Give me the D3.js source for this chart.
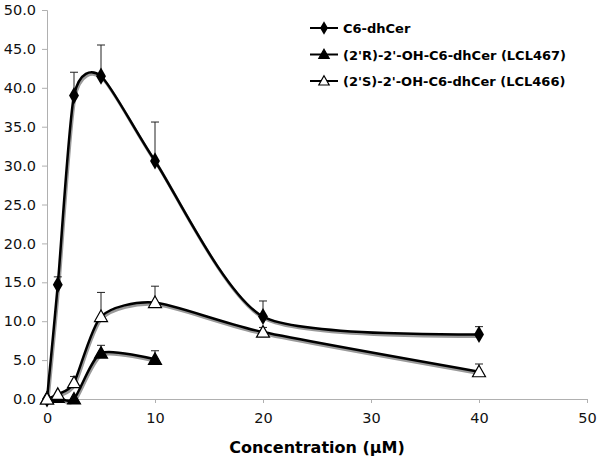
<!DOCTYPE html>
<html lang="en">
<head>
    <meta charset="UTF-8" />
    <title>Concentration chart</title>
    <script src="https://d3js.org/d3.v7.min.js"></script>
    <style>
        body { margin: 0; background: #fff; }
        text { font-family: "DejaVu Sans", Verdana, sans-serif; }
    </style>
</head>
<body>
    <script>
        var w = 600;
        var h = 462;

        // Data
        var concC6 = [0, 1, 2.5, 5, 10, 20, 40];
        var valC6 = [0, 14.7, 39.0, 41.5, 30.6, 10.6, 8.3];
        var errC6 = [0, 1.0, 3.0, 4.0, 5.0, 2.0, 1.0];

        var concR = [0, 1, 2.5, 5, 10];
        var valR = [0, 0.2, 0, 5.9, 5.1];
        var errR = [0, 0, 0, 1.0, 1.1];

        var concS = [0, 1, 2.5, 5, 10, 20, 40];
        var valS = [0, 0.6, 2.1, 10.6, 12.4, 8.6, 3.5];
        var errS = [0, 0, 0.8, 3.1, 2.1, 0.6, 1.0];

        var xTicks = [0, 10, 20, 30, 40, 50];
        var yTicks = [0, 5, 10, 15, 20, 25, 30, 35, 40, 45, 50];
        var seriesNames = ["C6-dhCer", "(2'R)-2'-OH-C6-dhCer (LCL467)", "(2'S)-2'-OH-C6-dhCer (LCL466)"];

        var series = [
            { name: seriesNames[0], x: concC6, y: valC6, e: errC6, marker: "diamond" },
            { name: seriesNames[1], x: concR, y: valR, e: errR, marker: "triFilled" },
            { name: seriesNames[2], x: concS, y: valS, e: errS, marker: "triOpen" }
        ];

        var svg = d3.select("body")
            .append("svg")
            .attr("width", w)
            .attr("height", h);

        var xScale = d3.scaleLinear().domain([0, 50]).range([47, 587]);
        var yScale = d3.scaleLinear().domain([0, 50]).range([399, 10]);

        // Axes
        var xAxis = d3.axisBottom(xScale).tickValues(xTicks).tickSize(4).tickPadding(10)
            .tickFormat(d3.format("d"));
        var yAxis = d3.axisLeft(yScale).tickValues(yTicks).tickSize(5).tickPadding(6)
            .tickFormat(d3.format(".1f"));

        var gx = svg.append("g")
            .attr("transform", "translate(0," + yScale(0) + ")")
            .call(xAxis);
        var gy = svg.append("g")
            .attr("transform", "translate(" + xScale(0) + ",0)")
            .call(yAxis);

        [gx, gy].forEach(function(g) {
            g.select(".domain").attr("stroke", "#b0b0b0");
            g.selectAll(".tick line").attr("stroke", "#b0b0b0");
            g.selectAll(".tick text")
                .attr("fill", "#111")
                .style("font-size", "14.5px")
                .style("font-family", "'DejaVu Sans', Verdana, sans-serif");
        });

        svg.append("text")
            .attr("x", (xScale(0) + xScale(50)) / 2)
            .attr("y", 453)
            .attr("text-anchor", "middle")
            .style("font-size", "16px")
            .style("font-weight", "bold")
            .text("Concentration (\u00b5M)");

        var line = d3.line()
            .x(function(d) { return xScale(d[0]); })
            .y(function(d) { return yScale(d[1]); })
            .curve(d3.curveCardinal.tension(0.3));

        function points(s) {
            return s.x.map(function(v, i) { return [v, s.y[i], s.e[i]]; });
        }

        // Shadow lines
        series.forEach(function(s) {
            svg.append("path")
                .attr("d", line(points(s)))
                .attr("transform", "translate(1,2)")
                .attr("fill", "none")
                .attr("stroke", "#9a9a9a")
                .attr("stroke-width", 3);
        });

        // Error bars (upper only)
        series.forEach(function(s) {
            points(s).filter(function(d) { return d[2] > 0; }).forEach(function(d) {
                var px = xScale(d[0]);
                var y1 = yScale(d[1]);
                var y2 = yScale(d[1] + d[2]);
                svg.append("line")
                    .attr("x1", px).attr("x2", px)
                    .attr("y1", y1).attr("y2", y2)
                    .attr("stroke", "#222").attr("stroke-width", 1);
                svg.append("line")
                    .attr("x1", px - 4).attr("x2", px + 4)
                    .attr("y1", y2).attr("y2", y2)
                    .attr("stroke", "#222").attr("stroke-width", 1);
            });
        });

        // Main lines
        series.forEach(function(s) {
            svg.append("path")
                .attr("d", line(points(s)))
                .attr("fill", "none")
                .attr("stroke", "#000")
                .attr("stroke-width", 2.5);
        });

        function drawMarker(g, type, px, py, scale) {
            var k = scale || 1;
            if (type === "diamond") {
                g.append("path")
                    .attr("d", d3.symbol().type(d3.symbolDiamond).size(85 * k * k)())
                    .attr("transform", "translate(" + px + "," + py + ")")
                    .attr("fill", "#000");
            } else {
                var tri = "M0," + (-6.5 * k) + "L" + (6.5 * k) + "," + (5 * k) + "L" + (-6.5 * k) + "," + (5 * k) + "Z";
                g.append("path")
                    .attr("d", tri)
                    .attr("transform", "translate(" + px + "," + py + ")")
                    .attr("fill", type === "triFilled" ? "#000" : "#fff")
                    .attr("stroke", "#000")
                    .attr("stroke-width", 1.2);
            }
        }

        // Markers
        series.forEach(function(s) {
            var g = svg.append("g");
            points(s).forEach(function(d) {
                drawMarker(g, s.marker, xScale(d[0]), yScale(d[1]));
            });
        });

        // Legend
        var legend = svg.append("g").attr("transform", "translate(310,28)");
        series.forEach(function(s, i) {
            var row = legend.append("g").attr("transform", "translate(0," + (i * 26.5) + ")");
            row.append("line")
                .attr("x1", 0).attr("x2", 28)
                .attr("y1", 0).attr("y2", 0)
                .attr("stroke", "#000").attr("stroke-width", 2);
            drawMarker(row, s.marker, 14, 0, 0.8);
            row.append("text")
                .attr("x", 33)
                .attr("y", 5)
                .style("font-size", "13px")
                .style("font-weight", "bold")
                .text(s.name);
        });
    </script>
</body>
</html>
